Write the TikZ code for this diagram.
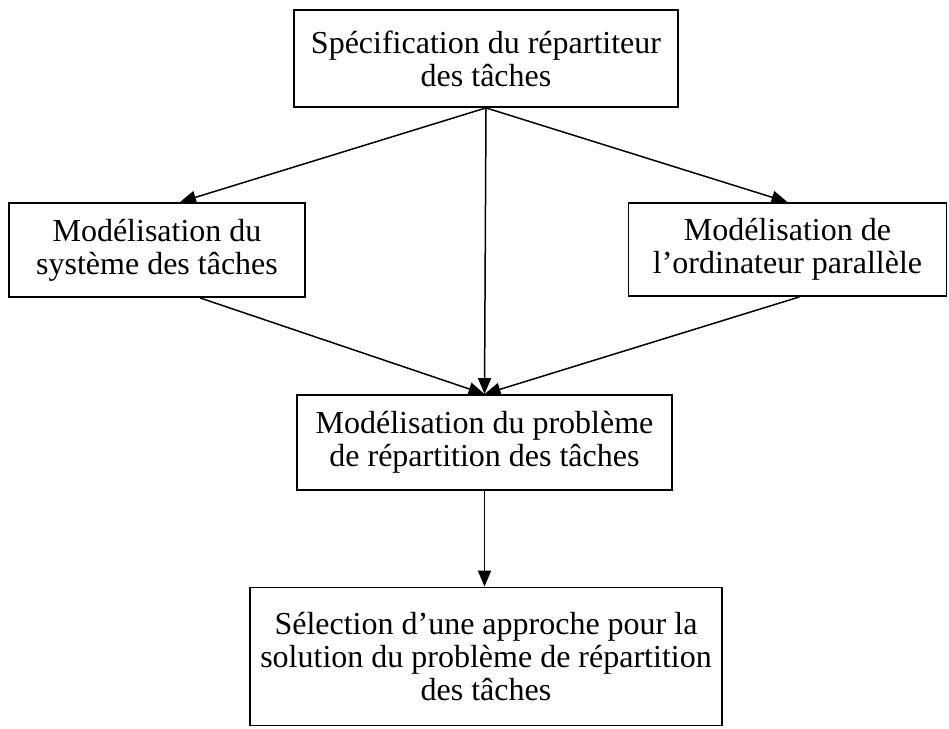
\documentclass[tikz,border=0pt]{standalone}
\usepackage{fontspec}
\setmainfont{Liberation Serif}
\usetikzlibrary{arrows.meta}

\tikzset{
  boite/.style={draw, line width=1.8pt, align=center, inner sep=0pt,
    font=\fontsize{32}{33}\selectfont},
  fleche/.style={line width=1.5pt, -{Triangle[length=16pt,width=13pt]}}
}

\begin{document}
\begin{tikzpicture}[x=1pt,y=-1pt]
\useasboundingbox (0,0) rectangle (949,728);

\node[boite, minimum width=384, minimum height=97] (spec) at (486,58.5) {Spécification du répartiteur\\des tâches};
\node[boite, minimum width=296, minimum height=94] (sys) at (157,250) {Modélisation du\\système des tâches};
\node[boite, minimum width=318, minimum height=93] (ord) at (787.5,249.5) {Modélisation de\\l'ordinateur parallèle};
\node[boite, minimum width=375, minimum height=95] (prob) at (484.5,442.5) {Modélisation du problème\\de répartition des tâches};
\node[boite, minimum width=472, minimum height=138] (sel) at (486,656.5) {Sélection d'une approche pour la\\solution du problème de répartition\\des tâches};

\draw[fleche] (spec.south) -- ([xshift=23pt]sys.north);
\draw[fleche] (spec.south) -- (ord.north);
\draw[fleche] (spec.south) -- (prob.north);
\draw[fleche] ([xshift=43pt]sys.south) -- (prob.north);
\draw[fleche] ([xshift=12pt]ord.south) -- (prob.north);
\draw[fleche] (prob.south) -- (prob.south |- sel.north);
\end{tikzpicture}
\end{document}
